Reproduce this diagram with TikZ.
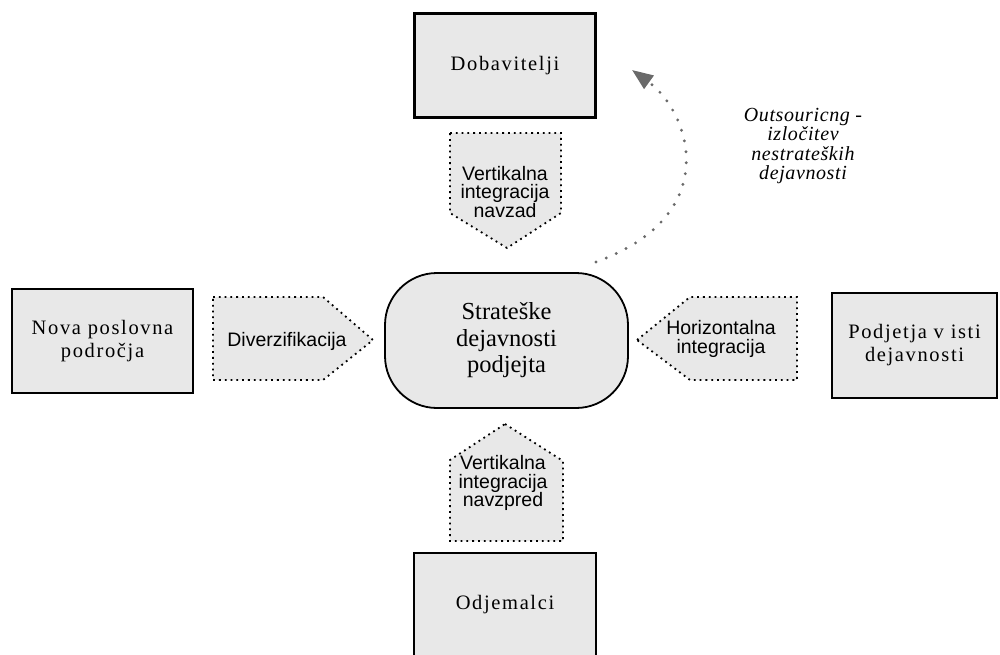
\documentclass[tikz,border=0pt]{standalone}
\usepackage{fontspec}
\setmainfont{Liberation Serif}
\newfontfamily\sansf{Liberation Sans}
\newfontfamily\spaced[LetterSpace=8]{Liberation Serif}
\newfontfamily\spacedit[LetterSpace=3]{Liberation Serif Italic}
\usetikzlibrary{arrows.meta}
\definecolor{boxfill}{HTML}{E8E8E8}
\definecolor{arrowgray}{HTML}{6A6A6A}
\tikzset{
  bigbox/.style={draw=black, line width=2.4pt, fill=boxfill, rectangle, inner sep=0pt,
    align=center, font=\spaced\fontsize{20.5}{23}\selectfont},
  core/.style={draw=black, line width=1.8pt, fill=boxfill, rectangle, rounded corners=52pt,
    minimum width=243pt, minimum height=135pt, align=center,
    font=\fontsize{24.5}{26.5}\selectfont},
  penta/.style={draw=black, fill=boxfill, line width=1.8pt, dash pattern=on 1.8pt off 4pt},
  pentext/.style={align=center, inner sep=0pt, font=\sansf\fontsize{19.5}{18.5}\selectfont},
  outarrow/.style={draw=arrowgray, line width=3.2pt, line cap=round, dash pattern=on 0pt off 11pt,
    -{Triangle[length=21pt,width=16pt,fill=arrowgray]}},
  outlabel/.style={align=center, inner sep=0pt, font=\spacedit\fontsize{20}{19.5}\selectfont}
}
\begin{document}
\begin{tikzpicture}[x=1pt,y=-1pt]
\useasboundingbox (0,0) rectangle (1000,655);
% pentagons (drawn first)
\draw[penta] (450,133) -- (561,133) -- (561,213) -- (507,248) -- (450,213) -- cycle;
\draw[penta] (213,297) -- (323,297) -- (373,340) -- (323,380) -- (213,380) -- cycle;
\draw[penta] (637,340) -- (690,297) -- (797,297) -- (797,380) -- (690,380) -- cycle;
\draw[penta] (505,424) -- (563,461) -- (563,541) -- (450,541) -- (450,460) -- cycle;
\node[pentext] (back) at (505,192) {Vertikalna\\integracija\\navzad};
\node[pentext] (div) at (287,341) {Diverzifikacija};
\node[pentext] (hor) at (721,339) {Horizontalna\\integracija};
\node[pentext] (fwd) at (503,483) {Vertikalna\\integracija\\navzpred};
% boxes
\node[bigbox, minimum width=181pt, minimum height=104pt] (dob) at (505,65.5) {Dobavitelji};
\node[bigbox, minimum width=181pt, minimum height=104pt] (nova) at (102.5,341) {Nova poslovna\\področja};
\node[bigbox, minimum width=165pt, minimum height=105pt] (podj) at (914.5,345.5) {Podjetja v isti\\dejavnosti};
\node[bigbox, minimum width=182pt, minimum height=104pt] (odj) at (505,605) {Odjemalci};
% core
\node[core] (core) at (506.5,340.5) {Strateške\\dejavnosti\\podjejta};
% outsourcing arrow
\coordinate (ostart) at (596,262);
\coordinate (otip) at (632,70);
\draw[outarrow] (ostart) .. controls (725,215) and (690,112) .. (otip);
\node[outlabel] (olab) at (803,146) {Outsouricng -\\izločitev\\nestrateških\\dejavnosti};
\end{tikzpicture}
\end{document}
